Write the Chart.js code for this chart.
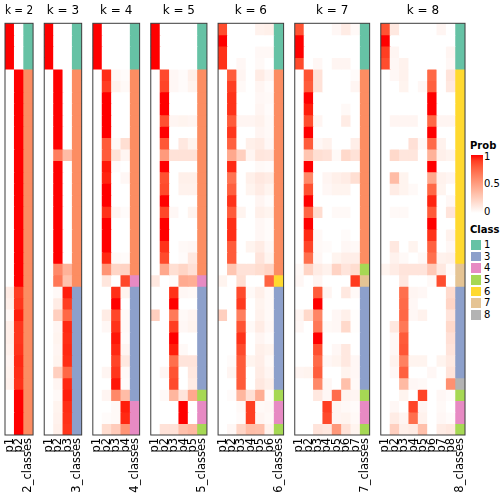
<!DOCTYPE html>
<html>
<head>
<meta charset="utf-8">
<script src="https://cdn.jsdelivr.net/npm/chart.js@4.4.0/dist/chart.umd.min.js"></script>
<style>
  html, body { margin: 0; padding: 0; background: #fff; }
  #wrap { position: relative; width: 504px; height: 504px; overflow: hidden; font-family: "DejaVu Sans", sans-serif; }
  #wrap canvas { position: absolute; top: 0; }
  .lg { position: absolute; font-size: 10px; line-height: 10px; color: #000; white-space: nowrap; }
  .lg.b { font-weight: bold; }
  .sq { position: absolute; width: 10.5px; height: 9.5px; }
</style>
</head>
<body>
<div id="wrap"></div>
<script>
// ===== Data =====
const panelKs = [2, 3, 4, 5, 6, 7, 8];

// class colours (class id -> colour)
const classColors = { 1: "#66C2A5", 2: "#FC8D62", 3: "#8DA0CB", 4: "#E78AC3", 5: "#A6D854", 6: "#FFD92F", 7: "#E5C494", 8: "#B3B3B3" };
const legendClasses = [1, 3, 4, 5, 6, 7, 8];
const probTicks = ["1", "0.5", "0"];

const classK2 = [1,1,1,1, 2,2,2,2,2,2,2,2,2,2,2,2,2,2,2,2,2,2,2, 2,2,2,2,2,2,2,2,2, 2,2,2,2];
const classK3 = [1,1,1,1, 2,2,2,2,2,2,2,2,2,2,2,2,2,2,2,2,2,2,2, 3,3,3,3,3,3,3,3,3,3,3,3,3];
const classK4 = [1,1,1,1, 2,2,2,2,2,2,2,2,2,2,2,2,2,2,2,2,2,2, 4, 3,3,3,3,3,3,3,3,3,3, 4,4,4];
const classK5 = [1,1,1,1, 2,2,2,2,2,2,2,2,2,2,2,2,2,2,2,2,2,2, 4, 3,3,3,3,3,3,3,3,3, 5, 4,4, 5];
const classK6 = [1,1,1,1, 2,2,2,2,2,2,2,2,2,2,2,2,2,2,2,2,2,2, 6, 3,3,3,3,3,3,3,3,3, 5, 4,4, 5];
const classK7 = [1,1,1,1, 2,2,2,2,2,2,2,2,2,2,2,2,2,2,2,2,2, 5, 7, 3,3,3,3,3,3,3,3,3, 5, 4,4, 5];
const classK8 = [1,1,1,1, 6,6,6,6,6,6,6,6,6,6,6,6,6,6,6,6,6, 7,7, 3,3,3,3,3,3,3,3, 8, 5, 4,4, 5];

const probK2 = [
  [1,0],[1,0],[1,0],[1,0],
  [0,1],[0,1],[0,1],[0,1],[0,1],[0,1],[0,1],[0,1],[0,1],[0,1],
  [0,1],[0,1],[0,1],[0,1],[0,1],[0,1],[0,1],[0,1],[0,1],
  [0.1,0.9],[0.08,0.92],[0.03,0.97],[0.08,0.92],[0.08,0.92],[0.07,0.93],[0.05,0.95],[0.06,0.94],[0.07,0.93],
  [0,1],[0,1],[0,1],[0,1]
];

const probK3 = [
  [1,0,0],[1,0,0],[1,0,0],[1,0,0],
  [0,1,0],[0,1,0],[0,1,0],[0,1,0],[0,1,0],[0,1,0],[0,1,0],
  [0,0.65,0.35],
  [0,1,0],[0,1,0],[0,1,0],[0,1,0],[0,1,0],[0,1,0],[0,1,0],[0,1,0],[0,1,0],
  [0,0.6,0.4],[0,0.68,0.32],
  [0,0.03,0.97],[0,0.1,0.9],[0,0.25,0.75],[0,0.05,0.95],[0,0.06,0.94],[0,0.05,0.95],
  [0,0.06,0.94],[0,0.25,0.75],[0,0.05,0.95],[0,0.03,0.97],[0,0.06,0.94],[0,0.07,0.93],[0,0.08,0.92]
];

const probK4 = [
  [1,0,0,0],[1,0,0,0],[1,0,0,0],[1,0,0,0],
  [0,0.94,0.04,0.02],[0,0.9,0.07,0.03],[0,1,0,0],[0,1,0,0],[0,1,0,0],[0,1,0,0],
  [0,0.8,0.03,0.17],[0,0.8,0.15,0.05],[0,0.98,0.02,0],[0,0.96,0,0.04],[0,1,0,0],[0,1,0,0],
  [0,0.93,0.05,0.02],[0,1,0,0],[0,1,0,0],[0,1,0,0],[0,0.95,0.03,0.02],
  [0,0.55,0.22,0.23],[0,0.13,0,0.87],
  [0,0,0.94,0.06],[0,0,1,0],[0,0.1,0.87,0.03],[0,0.04,0.93,0.03],[0,0,0.98,0.02],
  [0,0,0.95,0.05],[0,0,0.88,0.12],[0,0.05,0.92,0.03],[0,0,0.98,0.02],[0,0.05,0.6,0.35],
  [0,0,0.03,0.97],[0,0.02,0.03,0.95],[0,0.18,0.27,0.55]
];

const probK5 = [
  [1,0,0,0,0],[1,0,0,0,0],[1,0,0,0,0],[1,0,0,0,0],
  [0,0.86,0.04,0.02,0.08],[0,0.88,0.04,0.02,0.06],[0,1,0,0,0],[0,1,0,0,0],
  [0,0.84,0.05,0.06,0.05],[0,1,0,0,0],[0,0.82,0,0.12,0.06],[0,0.52,0.15,0.15,0.15],
  [0,1,0,0,0],[0,0.84,0,0.08,0.08],[0,0.86,0,0.07,0.07],[0,1,0,0,0],
  [0,0.87,0.04,0,0.06],[0,1,0,0,0],[0,1,0,0,0],[0,0.93,0,0.03,0.04],
  [0,0.86,0,0.02,0.12],[0,0.45,0.17,0.22,0.16],[0.12,0,0.02,0.44,0.42],
  [0,0,0.93,0.04,0.03],[0,0,1,0,0],[0.25,0,0.67,0.03,0.05],[0,0,0.9,0.04,0.06],
  [0,0,1,0,0],[0,0,0.97,0.03,0],[0,0,0.72,0.14,0.14],[0,0.05,0.83,0,0.12],
  [0,0,0.86,0,0.1],[0,0.03,0.38,0.14,0.45],[0,0,0,1,0],[0,0,0,1,0],[0,0.15,0.15,0.33,0.37]
];

const probK6 = [
  [0.85,0,0,0,0.07,0.08],[1,0,0,0,0,0],[0.93,0,0,0,0.035,0.035],[0.93,0,0.04,0,0.03,0],
  [0,0.8,0.05,0,0.1,0.05],[0,0.9,0.03,0,0.05,0.02],[0,0.93,0,0,0.04,0.03],[0,0.93,0,0,0.05,0.02],
  [0,0.8,0.05,0.05,0.07,0.03],[0,0.92,0,0,0.05,0.03],[0,0.78,0,0.08,0.1,0.04],[0,0.45,0.25,0.05,0.13,0.12],
  [0,0.95,0,0,0.03,0.02],[0,0.7,0,0.08,0.12,0.1],[0,0.78,0,0.06,0.1,0.06],[0,0.93,0,0,0.05,0.02],
  [0,0.8,0.06,0,0.08,0.06],[0,0.94,0,0,0.04,0.02],[0,0.94,0,0,0.04,0.02],[0,0.8,0,0.06,0.1,0.04],
  [0,0.8,0,0,0.14,0.06],[0,0.3,0.15,0.15,0.18,0.22],[0.06,0,0.17,0,0,0.77],
  [0,0,0.86,0.03,0.08,0.03],[0,0,0.91,0,0.06,0.03],[0.25,0,0.65,0,0.07,0.03],[0,0,0.83,0.03,0.1,0.04],
  [0,0,0.93,0,0.05,0.02],[0,0,0.86,0,0.08,0.06],[0,0.02,0.8,0.06,0.09,0.03],[0,0.05,0.8,0,0.1,0.05],
  [0,0,0.8,0,0.12,0.08],[0,0.02,0.38,0.16,0.42,0.02],[0,0,0.03,0.9,0.03,0.04],[0,0,0.02,0.9,0.05,0.03],
  [0,0.04,0.22,0.34,0.33,0.07]
];

const probK7 = [
  [0.83,0,0,0,0.04,0.1,0.03],[1,0,0,0,0,0,0],[1,0,0,0,0,0,0],[0.86,0,0.04,0,0.05,0.05,0],
  [0,0.83,0.15,0,0,0,0.02],[0,0.8,0.15,0,0,0,0.05],[0,1,0,0,0,0,0],[0,0.97,0,0,0,0.03,0],
  [0,0.85,0.05,0,0,0.1,0],[0,1,0,0,0,0,0],[0,0.8,0.04,0.07,0,0,0.09],[0,0.3,0.17,0.15,0.03,0.2,0.15],
  [0,1,0,0,0,0,0],[0,0.6,0,0.05,0.08,0.1,0.17],[0,0.84,0,0.04,0.06,0.06,0],[0,1,0,0,0,0,0],
  [0,0.76,0.18,0,0.03,0.03,0],[0,1,0,0,0,0,0],[0,0.95,0.03,0,0,0.02,0],[0,0.88,0.03,0.02,0,0.04,0.03],
  [0,0.72,0.04,0,0.06,0.09,0.09],[0.03,0.22,0.1,0.07,0.23,0.14,0.18],[0.04,0,0.05,0,0,0,0.91],
  [0,0,0.8,0.05,0,0.12,0.03],[0,0,1,0,0,0,0],[0.05,0.2,0.62,0,0.04,0.08,0.01],[0.04,0,0.68,0.03,0.04,0.2,0.01],
  [0,0,1,0,0,0,0],[0,0,0.84,0,0.04,0.12,0],[0,0,0.74,0.04,0.06,0.12,0.04],[0.05,0.06,0.79,0,0,0.06,0.04],
  [0,0,0.6,0.04,0,0.33,0.03],[0,0,0.12,0.04,0.73,0.06,0.05],[0,0,0,0.9,0.05,0.03,0.02],
  [0,0,0,0.86,0.05,0.06,0.03],[0,0,0.14,0.12,0.53,0.15,0.06]
];

const probK8 = [
  [0.83,0.12,0,0,0,0,0.05,0],[1,0,0,0,0,0,0,0],[0.9,0.05,0,0,0,0,0,0.05],[0.85,0.04,0.07,0,0,0,0,0.04],
  [0,0.04,0.07,0,0,0.75,0,0.14],[0,0,0.06,0,0.04,0.78,0,0.12],[0,0,0,0,0,1,0,0],[0,0,0,0,0,1,0,0],
  [0,0.05,0.05,0.05,0,0.75,0.05,0.05],[0,0,0,0,0,1,0,0],[0,0,0,0.16,0.03,0.74,0.07,0],
  [0,0.2,0.13,0.13,0,0.4,0.08,0.06],[0,0,0,0,0,1,0,0],[0,0.35,0.06,0,0,0.45,0.07,0.05],
  [0,0.1,0.06,0.03,0,0.75,0.06,0],[0,0,0,0,0,0.96,0,0.04],[0,0.03,0.03,0,0,0.8,0,0.14],
  [0,0,0,0,0,1,0,0],[0,0,0,0,0,0.93,0,0.07],[0,0.12,0,0.06,0,0.78,0,0.04],
  [0,0.07,0.03,0,0.03,0.72,0.07,0.08],[0.06,0.1,0.14,0.14,0.14,0.28,0.12,0.02],[0,0,0.12,0,0,0.03,0.85,0],
  [0,0,0.72,0.05,0.04,0,0,0.19],[0,0,0.74,0.04,0,0,0,0.22],[0,0,0.75,0.04,0.07,0,0,0.14],
  [0,0.12,0.68,0,0,0,0,0.2],[0,0.04,0.8,0,0,0,0,0.16],[0,0.04,0.82,0,0,0,0,0.14],
  [0,0.07,0.64,0.06,0.06,0,0.06,0.11],[0,0.04,0.78,0,0,0.04,0,0.14],[0,0,0.36,0.04,0.03,0,0,0.57],
  [0,0,0.06,0,0.88,0,0.04,0.02],[0,0.04,0,0.88,0.05,0,0.03,0],[0,0.1,0.05,0.72,0.07,0,0.04,0.02],
  [0,0.25,0.08,0.1,0.33,0,0.1,0.12]
];

const probsByK = { 2: probK2, 3: probK3, 4: probK4, 5: probK5, 6: probK6, 7: probK7, 8: probK8 };
const classesByK = { 2: classK2, 3: classK3, 4: classK4, 5: classK5, 6: classK6, 7: classK7, 8: classK8 };

// ===== white -> red colour ramp in LAB =====
function toLin(c) { c /= 255; return c <= 0.04045 ? c / 12.92 : Math.pow((c + 0.055) / 1.055, 2.4); }
function toSrgb(c) {
  c = c <= 0.0031308 ? 12.92 * c : 1.055 * Math.pow(c, 1 / 2.4) - 0.055;
  return Math.round(Math.max(0, Math.min(1, c)) * 255);
}
function rgbToLab(rgb) {
  const R = toLin(rgb[0]), G = toLin(rgb[1]), B = toLin(rgb[2]);
  const X = (0.4124 * R + 0.3576 * G + 0.1805 * B) / 0.95047;
  const Y = 0.2126 * R + 0.7152 * G + 0.0722 * B;
  const Z = (0.0193 * R + 0.1192 * G + 0.9505 * B) / 1.08883;
  const f = t => t > 0.008856 ? Math.cbrt(t) : 7.787 * t + 16 / 116;
  const fx = f(X), fy = f(Y), fz = f(Z);
  return [116 * fy - 16, 500 * (fx - fy), 200 * (fy - fz)];
}
function labToRgb(lab) {
  const fy = (lab[0] + 16) / 116, fx = fy + lab[1] / 500, fz = fy - lab[2] / 200;
  const inv = t => t * t * t > 0.008856 ? t * t * t : (t - 16 / 116) / 7.787;
  const X = inv(fx) * 0.95047, Y = inv(fy), Z = inv(fz) * 1.08883;
  return [
    toSrgb(3.2406 * X - 1.5372 * Y - 0.4986 * Z),
    toSrgb(-0.9689 * X + 1.8758 * Y + 0.0415 * Z),
    toSrgb(0.0557 * X - 0.2040 * Y + 1.0570 * Z)
  ];
}
const labWhite = rgbToLab([255, 255, 255]);
const labRed = rgbToLab([255, 0, 0]);
function probColor(v) {
  const lab = labWhite.map((w, i) => w + (labRed[i] - w) * v);
  const c = labToRgb(lab);
  return `rgb(${c[0]},${c[1]},${c[2]})`;
}

// ===== Layout =====
const colW = 9.36, panelGap = 11.15, firstLeft = 5;
const canvasH = 504, axisH = 69;
const fontFamily = "'DejaVu Sans', sans-serif";
const wrap = document.getElementById("wrap");

const boxBorder = {
  id: "boxBorder",
  afterDatasetsDraw(chart) {
    const a = chart.chartArea, ctx = chart.ctx;
    ctx.save();
    ctx.strokeStyle = "#3c3c3c";
    ctx.lineWidth = 1;
    ctx.strokeRect(a.left, a.top, a.right - a.left, a.bottom - a.top);
    ctx.restore();
  }
};

let left = firstLeft;
panelKs.forEach(k => {
  const probs = probsByK[k];
  const classes = classesByK[k];
  const nCols = k + 1;
  const right = left + nCols * colW;
  const bodyMid = left + k * colW / 2;   // title sits over the p columns
  const half = (k + 2) * colW / 2 + 5;
  const cLeft = Math.round(bodyMid - half);
  const cW = Math.round(2 * half);

  const canvas = document.createElement("canvas");
  canvas.width = cW;
  canvas.height = canvasH;
  canvas.style.left = cLeft + "px";
  canvas.style.width = cW + "px";
  canvas.style.height = canvasH + "px";
  wrap.appendChild(canvas);

  const labels = [];
  for (let c = 1; c <= k; c++) labels.push("p" + c);
  labels.push(k + "_classes");

  const datasets = probs.map((row, r) => ({
    data: labels.map(() => 1),
    backgroundColor: labels.map((_, c) => c < k ? probColor(row[c]) : classColors[classes[r]]),
    borderWidth: 0,
    barPercentage: 1,
    categoryPercentage: 1,
    inflateAmount: 0.4
  }));

  new Chart(canvas, {
    type: "bar",
    data: { labels, datasets },
    plugins: [boxBorder],
    options: {
      responsive: false,
      animation: false,
      events: [],
      layout: { padding: { left: left - cLeft, right: cLeft + cW - right, top: 0, bottom: 0 } },
      plugins: {
        legend: { display: false },
        tooltip: { enabled: false },
        title: {
          display: true,
          text: "k = " + k,
          color: "#000",
          font: { family: fontFamily, size: 12, weight: "normal", lineHeight: 1.2 },
          padding: { top: 4, bottom: 4.9 }
        }
      },
      scales: {
        x: {
          stacked: true,
          offset: true,
          grid: { display: false, drawTicks: false },
          border: { display: false },
          ticks: {
            autoSkip: false,
            minRotation: 90,
            maxRotation: 90,
            padding: 3,
            color: "#000",
            font: { family: fontFamily, size: 11.5 }
          },
          afterFit: s => { s.height = axisH; s.paddingLeft = 0; s.paddingRight = 0; }
        },
        y: {
          stacked: true,
          reverse: true,
          min: 0,
          max: probs.length,
          display: false
        }
      }
    }
  });

  left = right + panelGap;
});

// ===== Legends =====
function addDiv(cls, text, x, y, style) {
  const d = document.createElement("div");
  d.className = cls;
  if (text !== null) d.textContent = text;
  d.style.left = x + "px";
  d.style.top = y + "px";
  if (style) Object.assign(d.style, style);
  wrap.appendChild(d);
  return d;
}

addDiv("lg b", "Prob", 470, 141);
const stops = [];
for (let i = 0; i <= 10; i++) stops.push(probColor(1 - i / 10) + " " + (i * 10) + "%");
addDiv("sq", null, 470.5, 154.5, { width: "12px", height: "58px", background: "linear-gradient(to bottom, " + stops.join(", ") + ")" });
const probTickY = [151.7, 178.5, 206.5];
probTicks.forEach((t, i) => addDiv("lg", t, 484, probTickY[i]));

addDiv("lg b", "Class", 470, 224.7);
legendClasses.forEach((c, i) => {
  const top = 240 + i * 11.67;
  addDiv("sq", null, 470.5, top, { background: classColors[c] });
  addDiv("lg", String(c), 484, top);
});
</script>
</body>
</html>
